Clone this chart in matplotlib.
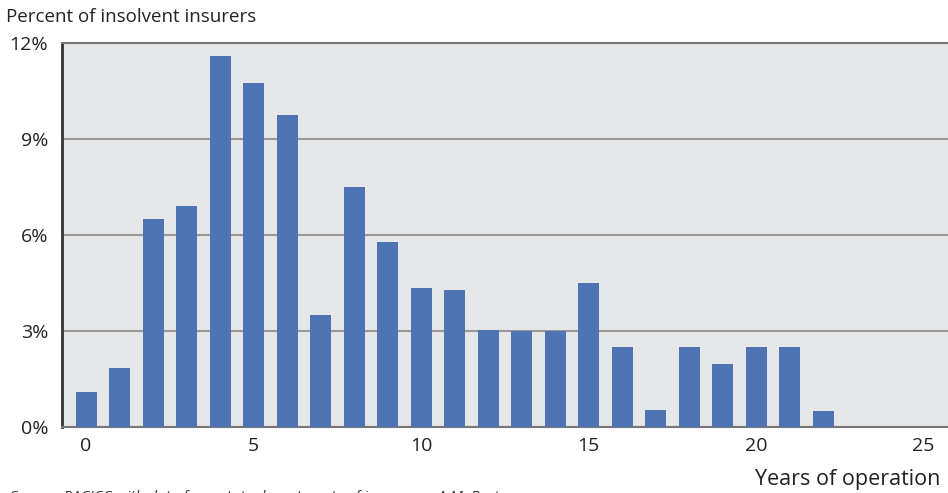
import matplotlib.pyplot as plt
import numpy as np

# Data
years = list(range(0, 23))
pct = [1.1, 1.85, 6.5, 6.9, 11.6, 10.75, 9.75, 3.5, 7.5, 5.78, 4.33, 4.28,
       3.03, 3.0, 3.0, 4.5, 2.5, 0.53, 2.5, 1.97, 2.5, 2.5, 0.5]
y_ticks = [0, 3, 6, 9, 12]
x_ticks = [0, 5, 10, 15, 20, 25]

plt.rcParams['font.family'] = ['Open Sans', 'DejaVu Sans']

fig = plt.figure(figsize=(9.48, 4.93), dpi=100)
ax = fig.add_axes([62 / 948, 66 / 493, 1 - 62 / 948, 384 / 493])
ax.set_facecolor('#e6e7e9')

ax.bar(years, pct, width=0.63, color='#4f74b4', zorder=3)

ax.set_xlim(-0.72, 25.73)
ax.set_ylim(0, 12)
ax.set_yticks(y_ticks)
ax.set_yticklabels([f'{t}%' for t in y_ticks], fontsize=14, color='#222222')
ax.set_xticks(x_ticks)
ax.set_xticklabels([str(t) for t in x_ticks], fontsize=14, color='#222222')
ax.tick_params(axis='y', length=0, pad=10)
ax.tick_params(axis='x', length=0, pad=7)
ax.grid(axis='y', color='#9a9a9a', linewidth=1.5, zorder=1)

ax.spines['left'].set_color('#333333')
ax.spines['left'].set_linewidth(2)
for s in ['top', 'bottom']:
    ax.spines[s].set_color('#777777')
    ax.spines[s].set_linewidth(1.5)
ax.spines['right'].set_visible(False)

fig.text(6 / 948, 1 - 17 / 493, 'Percent of insolvent insurers', fontsize=13.5,
         color='#222222', va='center', ha='left')
fig.text(940 / 948, 1 - 480 / 493, 'Years of operation', fontsize=15.5,
         color='#222222', va='center', ha='right')
fig.text(10 / 948, 1 - 498 / 493,
         'Source: PACICC with data from state departments of insurance, A.M. Best',
         fontsize=11, style='italic', color='#333333', va='center', ha='left')

fig.savefig('out.png', dpi=100)
